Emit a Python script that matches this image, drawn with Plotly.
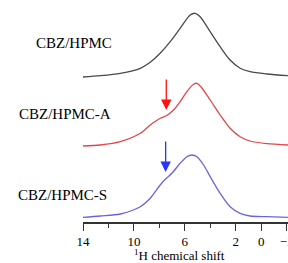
import plotly.graph_objects as go

# ---- data ----
shift_hpmc = [14.0, 12.64, 11.07, 9.50, 8.72, 7.94, 7.15, 6.37, 5.58, 5.19, 4.80, 4.01, 3.23, 2.45, 1.66, 0.88, -0.44, -2.1]
int_hpmc = [0, 1.3, 3.7, 8.7, 14.7, 23.7, 35.3, 48.7, 62, 63.7, 60.3, 45.3, 30.3, 17, 8.7, 5.3, 3, 1.3]

shift_a = [14.0, 12.64, 11.07, 9.50, 8.72, 7.94, 7.46, 6.89, 6.37, 5.84, 5.32, 5.05, 4.74, 4.01, 3.23, 2.45, 1.66, 0.88, -0.44, -2.1]
int_a = [0, 1, 4.3, 12.7, 21, 27.7, 30.3, 36, 44.3, 54.3, 61.7, 62.7, 59.3, 46, 31, 17.7, 9.3, 5, 2.3, 1]

shift_s = [14.0, 12.64, 11.07, 9.50, 8.72, 7.94, 7.54, 7.02, 6.37, 5.84, 5.45, 5.05, 4.53, 4.01, 3.23, 2.45, 1.66, 0.88, -0.44, -2.1]
int_s = [0.7, 2, 4, 11.3, 19.7, 33, 38.7, 44.7, 54.7, 61.3, 63, 61.3, 53, 41.3, 24.7, 11.3, 4.7, 2, 1.3, 0.7]

labels = ["CBZ/HPMC", "CBZ/HPMC-A", "CBZ/HPMC-S"]
tick_vals = [14, 10, 6, 2, 0, -2]
tick_text = ["14", "10", "6", "2", "0", "−2"]
minor_vals = [12, 8, 4]
shoulder_shift = [7.46, 7.51]

# ---- layout constants ----
offsets = [145, 76, 4]
colors = ["#4a4a4a", "#e0474c", "#6a66d8"]
arrow_colors = ["#ff1111", "#2a35f5"]
FONT = "Liberation Serif, Times New Roman, serif"

fig = go.Figure()
for xs, ys, off, col in zip([shift_hpmc, shift_a, shift_s], [int_hpmc, int_a, int_s], offsets, colors):
    fig.add_trace(go.Scatter(
        x=xs, y=[v + off for v in ys], mode="lines",
        line=dict(color=col, width=1.3, shape="spline", smoothing=0.8),
        showlegend=False, hoverinfo="skip"))

# sample labels
label_pos = [(-0.239, 0.806), (-0.322, 0.487), (-0.327, 0.120)]
for txt, (px, py) in zip(labels, label_pos):
    fig.add_annotation(text=txt, x=px, y=py, xref="paper", yref="paper",
                       xanchor="left", yanchor="middle", showarrow=False,
                       font=dict(family=FONT, size=15, color="black"))

# arrows marking shoulders
arrow_ends = [(112, 144), (50, 82)]
for sx, (tip, tail), col in zip(shoulder_shift, arrow_ends, arrow_colors):
    fig.add_annotation(x=sx, y=tip, ax=sx, ay=tail, xref="x", yref="y",
                       axref="x", ayref="y", text="", showarrow=True,
                       arrowhead=2, arrowsize=1.6, arrowwidth=1.3,
                       arrowcolor=col, standoff=0)

# axis title
fig.add_annotation(text="<sup>1</sup>H chemical shift", x=6.45, y=-0.15,
                   xref="x", yref="paper", xanchor="center", yanchor="middle",
                   showarrow=False, font=dict(family=FONT, size=13, color="black"))

fig.update_layout(
    width=288, height=263,
    margin=dict(l=83, r=0, t=0, b=41),
    paper_bgcolor="white", plot_bgcolor="white",
    xaxis=dict(range=[14, -2.1], tickvals=tick_vals, ticktext=tick_text,
               ticks="outside", ticklen=7, tickwidth=1.3, tickcolor="#333",
               showline=True, linecolor="#333", linewidth=1.5,
               showgrid=False, zeroline=False, automargin=False,
               ticklabeloverflow="allow",
               tickfont=dict(family=FONT, size=13, color="black"),
               minor=dict(tickvals=minor_vals, ticks="outside", ticklen=4,
                          tickwidth=1.3, tickcolor="#333", showgrid=False)),
    yaxis=dict(range=[0, 222], visible=False, showgrid=False, zeroline=False),
)

fig.write_html("out.html", config={"displayModeBar": False},
               post_script="document.body.style.margin='0';document.body.style.overflow='hidden';")
